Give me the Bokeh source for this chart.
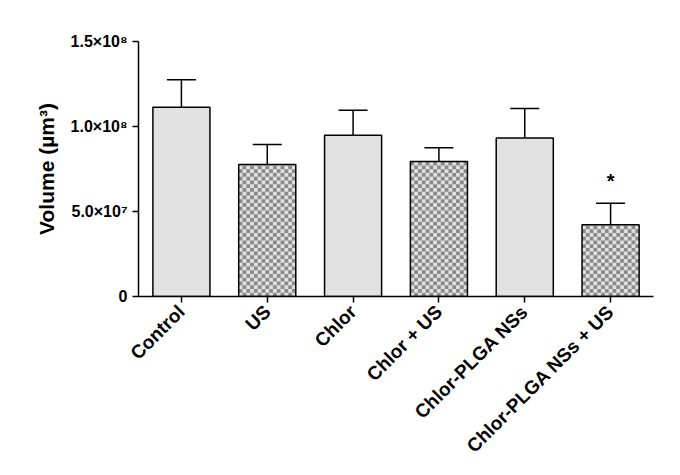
import math
from bokeh.plotting import figure
from bokeh.models import ColumnDataSource, Range1d, Whisker, TeeHead, FixedTicker
from bokeh.core.properties import value
from bokeh.embed import file_html
from bokeh.resources import INLINE

categories = ["Control", "US", "Chlor", "Chlor + US", "Chlor-PLGA NSs", "Chlor-PLGA NSs + US"]
means = [1.113e8, 0.776e8, 0.949e8, 0.794e8, 0.933e8, 0.422e8]
sem = [0.162e8, 0.118e8, 0.147e8, 0.081e8, 0.173e8, 0.127e8]
checkered = [False, True, False, True, False, True]
y_ticks = [0, 5.0e7, 1.0e8, 1.5e8]
y_tick_labels = ["0", "5.0×10⁷", "1.0×10⁸", "1.5×10⁸"]
star_index = [5]
star_y = [0.68e8]
star_txt = ["*"]

FONT = "Liberation Sans"
BAR_W = 0.665
LIGHT = "#e1e1e1"
DARK = "#8a8a8a"
NX = 15            # checker cells across a bar
CELL_H = 2.2e6     # checker cell height in data units

centers = [i + 0.5 for i in range(len(categories))]

src_all = ColumnDataSource(dict(
    x=centers, top=means, upper=[m + s for m, s in zip(means, sem)]))

# checkerboard cells (dark squares) for the patterned bars
cl, cr, cb, ct = [], [], [], []
for i, flag in enumerate(checkered):
    if not flag:
        continue
    left = centers[i] - BAR_W / 2
    cw = BAR_W / NX
    rows = int(math.ceil(means[i] / CELL_H))
    for iy in range(rows):
        b = iy * CELL_H
        t = min((iy + 1) * CELL_H, means[i])
        for ix in range(NX):
            if (ix + iy) % 2 == 1:
                cl.append(left + ix * cw)
                cr.append(left + (ix + 1) * cw)
                cb.append(b)
                ct.append(t)

p = figure(
    x_range=Range1d(0, len(categories)),
    y_range=Range1d(0, 1.5e8),
    width=670, height=467,
    output_backend="svg", toolbar_location=None,
    min_border_left=138, min_border_right=17,
    min_border_top=41, min_border_bottom=171,
)
p.outline_line_color = None
p.grid.grid_line_color = None
p.background_fill_color = "white"

p.vbar(x="x", top="top", width=BAR_W, source=src_all,
       fill_color=LIGHT, line_color=None)
p.quad(left=cl, right=cr, bottom=cb, top=ct, fill_color=DARK, line_color=None)
p.vbar(x="x", top="top", width=BAR_W, source=src_all,
       fill_alpha=0, line_color="black", line_width=1.5)

wh = Whisker(base="x", lower="top", upper="upper", source=src_all,
             line_color="black", line_width=1.5,
             upper_head=TeeHead(size=29, line_color="black", line_width=1.5),
             lower_head=None)
p.add_layout(wh)

p.text(x=[centers[i] for i in star_index], y=star_y, text=star_txt,
       text_font=value(FONT), text_font_style="bold", text_font_size="20px",
       text_align="center", text_baseline="middle", text_color="black")

# y axis
ya = p.yaxis[0]
ya.ticker = FixedTicker(ticks=y_ticks)
ya.major_label_overrides = {t: l for t, l in zip(y_ticks, y_tick_labels)}
ya.axis_label = "Volume (µm³)"
ya.axis_label_text_font = FONT
ya.axis_label_text_font_style = "bold"
ya.axis_label_text_font_size = "21px"
ya.axis_label_text_color = "black"
ya.axis_label_standoff = 10
ya.major_label_text_font = FONT
ya.major_label_text_font_style = "bold"
ya.major_label_text_font_size = "16px"
ya.major_label_text_color = "black"
ya.major_label_standoff = 5
ya.minor_tick_line_color = None
ya.major_tick_out = 6
ya.major_tick_in = 0
ya.axis_line_width = 1.5
ya.major_tick_line_width = 1.5

# x axis
xa = p.xaxis[0]
xa.ticker = FixedTicker(ticks=centers)
xa.major_label_overrides = {c: n for c, n in zip(centers, categories)}
xa.major_label_orientation = math.pi / 4
xa.major_label_text_font = FONT
xa.major_label_text_font_style = "bold"
xa.major_label_text_font_size = "19px"
xa.major_label_text_color = "black"
xa.major_label_standoff = 6
xa.minor_tick_line_color = None
xa.major_tick_out = 6
xa.major_tick_in = 0
xa.axis_line_width = 1.5
xa.major_tick_line_width = 1.5

open("out.html", "w").write(file_html(p, INLINE))
